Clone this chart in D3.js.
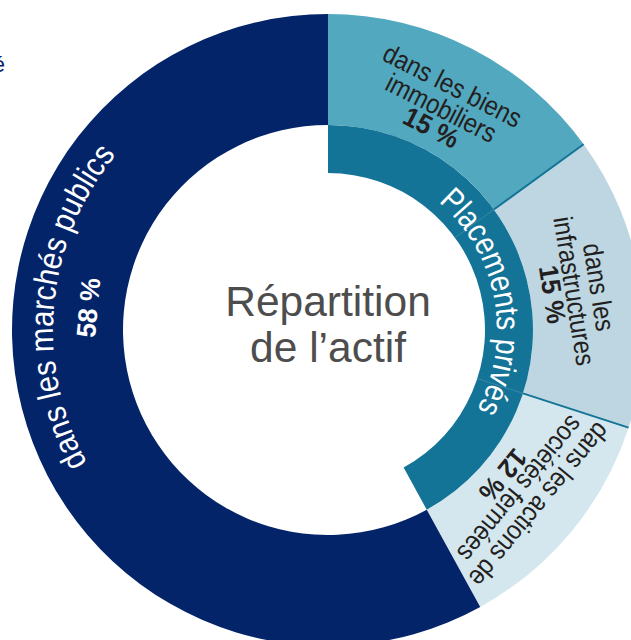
<!DOCTYPE html>
<html>
<head>
<meta charset="utf-8">
<script src="https://cdn.jsdelivr.net/npm/d3@7"></script>
<style>
  body { margin: 0; background: #fff; }
  svg { display: block; font-family: "Liberation Sans", Arial, Helvetica, sans-serif; }
</style>
</head>
<body>
<div id="chart"></div>
<script>
// valeurs du graphique
const segments = ["immobiliers", "infrastructures", "actions", "publics"]
const values = [15, 15, 12, 58]
const pctLabels = ["15 %", "15 %", "12 %", "58 %"]
const textLines = [
  ["dans les biens", "immobiliers"],
  ["dans les", "infrastructures"],
  ["dans les actions de", "sociétés fermées"],
  ["dans les marchés publics"]
]
const colors = ["#52a8bf", "#bdd6e1", "#d4e7ef", "#04246a"]
const privateSegs = ["immobiliers", "infrastructures", "actions"]
const privateLabel = "Placements privés"
const centerLines = ["Répartition", "de l’actif"]

const width = 631, height = 640
const cx = 328, cy = 330
const rOuter = 316, rMid = 205, rInner = 157
const narrow = 0.88   // police un peu étroite
const deg = Math.PI / 180

var svg = d3.select("#chart")
  .append("svg")
  .attr("width", width)
  .attr("height", height)

// petit bout de texte coupé à gauche
svg.append("text")
  .attr("x", 5)
  .attr("y", 72)
  .attr("text-anchor", "end")
  .attr("fill", "#04246a")
  .attr("font-size", 22)
  .text("é")

var g = svg.append("g")
  .attr("transform", "translate(" + cx + "," + cy + ")")

var pie = d3.pie()
  .sort(null)
  .value(function(d){ return d })

var arcs = pie(values)

var arcOuter = d3.arc()
  .innerRadius(rMid)
  .outerRadius(rOuter)

g.selectAll("path.seg")
  .data(arcs)
  .enter()
  .append("path")
  .attr("class", "seg")
  .attr("d", arcOuter)
  .attr("fill", function(d, i){ return colors[i] })

// anneau intérieur des placements privés
var privArcs = arcs.filter(function(d, i){ return privateSegs.includes(segments[i]) })
var privEnd = d3.max(privArcs, function(d){ return d.endAngle })
var arcInner = d3.arc()
  .innerRadius(rInner)
  .outerRadius(rMid)

g.append("path")
  .attr("d", arcInner({startAngle: 0, endAngle: privEnd}))
  .attr("fill", "#137497")

// séparateurs
function polar(r, a){
  return [r * Math.sin(a), -r * Math.cos(a)]
}
privArcs.slice(0, -1).forEach(function(d){
  let p0 = polar(rMid, d.endAngle), p1 = polar(rOuter, d.endAngle)
  g.append("line")
    .attr("x1", p0[0]).attr("y1", p0[1])
    .attr("x2", p1[0]).attr("y2", p1[1])
    .attr("stroke", "#137497")
    .attr("stroke-width", 2)
  let q0 = polar(rInner, d.endAngle), q1 = polar(rMid, d.endAngle)
  g.append("line")
    .attr("x1", q0[0]).attr("y1", q0[1])
    .attr("x2", q1[0]).attr("y2", q1[1])
    .attr("stroke", "#4f97b3")
    .attr("stroke-width", 0.6)
})

// étiquettes droites des placements privés
var labelR = 265, lineH = 25, pctGap = 22
arcs.forEach(function(d, i){
  if (!privateSegs.includes(segments[i])) return
  let a = (d.startAngle + d.endAngle) / 2
  let p = polar(labelR, a)
  let lab = g.append("g")
    .attr("transform", "translate(" + p[0] + "," + p[1] + ") rotate(" + (a / deg) + ")")
  let lines = textLines[i]
  lines.forEach(function(l, k){
    lab.append("text")
      .attr("transform", "translate(0," + (k * lineH) + ") scale(" + narrow + ",1)")
      .attr("text-anchor", "middle")
      .attr("fill", "#231f20")
      .attr("font-size", 27)
      .text(l)
  })
  lab.append("text")
    .attr("transform", "translate(0," + ((lines.length - 1) * lineH + pctGap) + ") scale(0.95,1)")
    .attr("text-anchor", "middle")
    .attr("fill", "#231f20")
    .attr("font-size", 27)
    .attr("font-weight", "bold")
    .text(pctLabels[i])
})

// chemins circulaires pour le texte courbe
function circlePath(r, a0, a1){
  let p = d3.path()
  p.arc(0, 0, r, a0 - Math.PI / 2, a1 - Math.PI / 2, false)
  return p.toString()
}

// texte courbe : rayon de base, angle central, étendue angulaire
function curvedText(id, r, mid, span, size, label){
  let a0 = mid - 90, a1 = mid + 90
  g.append("path")
    .attr("id", id)
    .attr("d", circlePath(r, a0 * deg, a1 * deg))
    .attr("fill", "none")
  g.append("text")
    .attr("fill", "#fff")
    .attr("font-size", size)
    .append("textPath")
    .attr("href", "#" + id)
    .attr("startOffset", "50%")
    .attr("text-anchor", "middle")
    .attr("textLength", r * span * deg)
    .attr("lengthAdjust", "spacingAndGlyphs")
    .text(label)
}

curvedText("privPath", 169, 79.4, 77.3, 33, privateLabel)

var pubAngle = 275.3
curvedText("pubPath", 275, pubAngle, 68.5, 33, textLines[3][0])

var pp = polar(241, pubAngle * deg)
g.append("text")
  .attr("transform", "translate(" + pp[0] + "," + pp[1] + ") rotate(" + (pubAngle - 360) + ") scale(0.97,1)")
  .attr("text-anchor", "middle")
  .attr("dy", "0.36em")
  .attr("fill", "#fff")
  .attr("font-size", 27)
  .attr("font-weight", "bold")
  .text(pctLabels[3])

// titre central
g.selectAll("text.center")
  .data(centerLines)
  .enter()
  .append("text")
  .attr("class", "center")
  .attr("x", 0)
  .attr("y", function(d, i){ return -14 + i * 46 })
  .attr("text-anchor", "middle")
  .attr("fill", "#4d4d4d")
  .attr("font-size", 42.5)
  .text(function(d){ return d })
</script>
</body>
</html>
